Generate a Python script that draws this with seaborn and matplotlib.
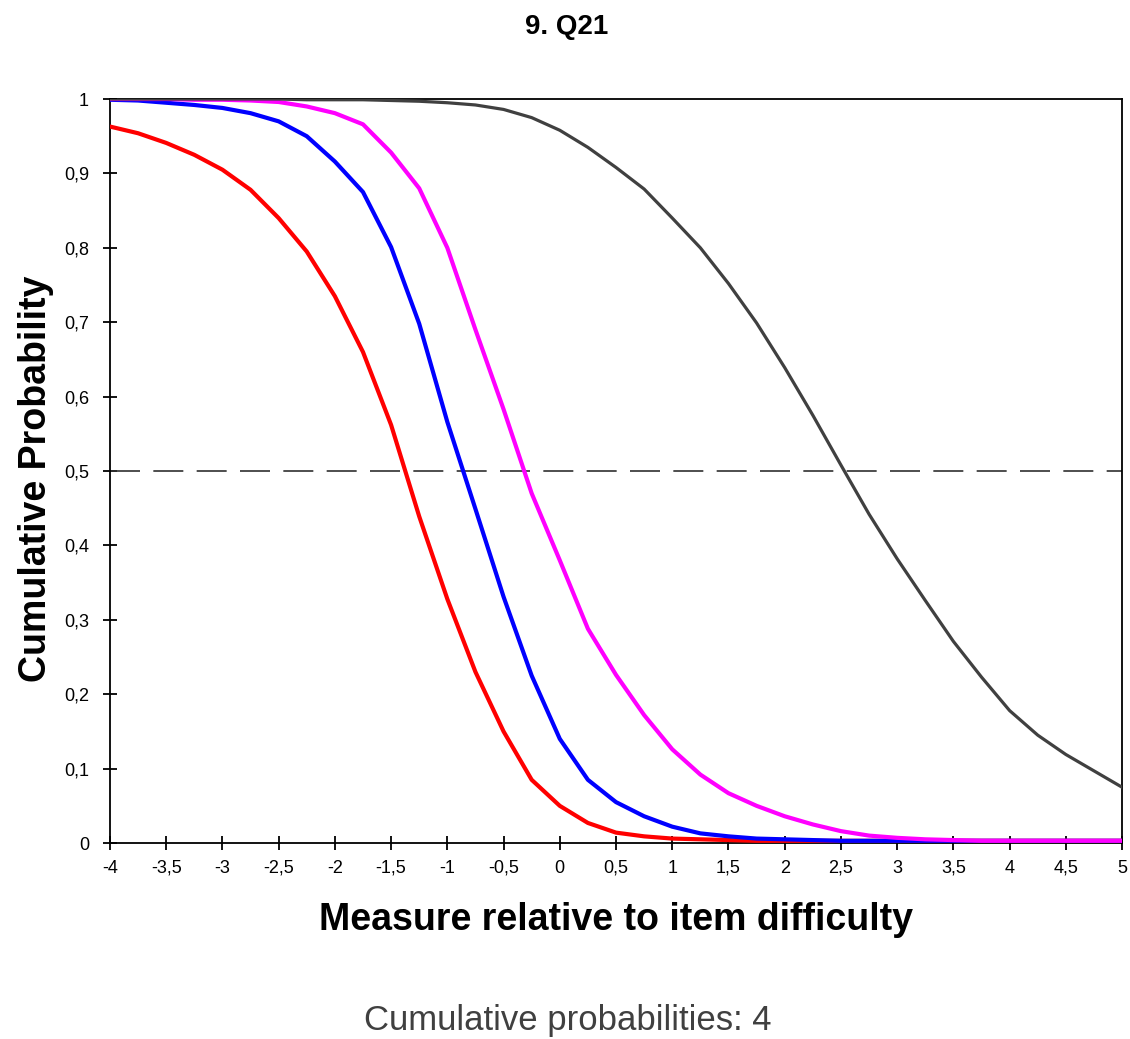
import seaborn as sns
import matplotlib.pyplot as plt
import matplotlib.ticker as mticker
import pandas as pd

# Measure values (relative to item difficulty)
measure = [-4, -3.75, -3.5, -3.25, -3, -2.75, -2.5, -2.25, -2, -1.75, -1.5, -1.25, -1, -0.75,
           -0.5, -0.25, 0, 0.25, 0.5, 0.75, 1, 1.25, 1.5, 1.75, 2, 2.25, 2.5, 2.75, 3, 3.25,
           3.5, 3.75, 4, 4.25, 4.5, 4.75, 5]

# Cumulative probability curves
cat_red = [0.963, 0.954, 0.941, 0.925, 0.905, 0.878, 0.840, 0.795, 0.735, 0.660, 0.562, 0.439,
           0.328, 0.230, 0.150, 0.085, 0.050, 0.027, 0.014, 0.009, 0.006, 0.005, 0.004, 0.003,
           0.003, 0.003, 0.003, 0.003, 0.003, 0.003, 0.003, 0.003, 0.003, 0.003, 0.003, 0.003,
           0.003]
cat_blue = [0.999, 0.998, 0.995, 0.992, 0.988, 0.981, 0.970, 0.950, 0.916, 0.875, 0.801, 0.698,
            0.566, 0.449, 0.331, 0.225, 0.140, 0.085, 0.055, 0.036, 0.022, 0.013, 0.009, 0.006,
            0.005, 0.004, 0.003, 0.003, 0.003, 0.003, 0.003, 0.003, 0.003, 0.003, 0.003, 0.003,
            0.003]
cat_magenta = [1.0, 1.0, 1.0, 0.999, 0.999, 0.998, 0.996, 0.990, 0.981, 0.966, 0.928, 0.880,
               0.800, 0.690, 0.583, 0.470, 0.380, 0.288, 0.226, 0.172, 0.126, 0.092, 0.067, 0.050,
               0.036, 0.025, 0.016, 0.010, 0.007, 0.005, 0.004, 0.003, 0.003, 0.003, 0.003, 0.003,
               0.003]
cat_gray = [1.0, 1.0, 1.0, 1.0, 1.0, 1.0, 1.0, 0.999, 0.999, 0.999, 0.998, 0.997, 0.995, 0.992,
            0.986, 0.975, 0.958, 0.935, 0.908, 0.879, 0.840, 0.800, 0.752, 0.699, 0.639, 0.575,
            0.508, 0.442, 0.382, 0.326, 0.271, 0.223, 0.178, 0.145, 0.119, 0.097, 0.075]

curve_names = ["1", "2", "3", "4"]
curve_colors = ["#ff0000", "#0000ff", "#ff00ff", "#404040"]
curve_widths = [3.0, 3.0, 3.0, 2.3]

frames = []
for name, vals in zip(curve_names, [cat_red, cat_blue, cat_magenta, cat_gray]):
    frames.append(pd.DataFrame({"Measure": measure, "Prob": vals, "Curve": name}))
df = pd.concat(frames, ignore_index=True)

sns.set_style("white")
plt.rcParams["font.family"] = ["Liberation Sans", "DejaVu Sans"]

fig = plt.figure(figsize=(11.3, 10.39), dpi=100)
ax = fig.add_axes([0.0973, 0.1886, 0.8957, 0.7161])

# dashed 0.5 reference line
ax.plot([measure[0], measure[-1]], [0.5, 0.5], color="#303030", linewidth=1.2, dashes=(18, 8), zorder=1)

for name, col, lw in zip(curve_names, curve_colors, curve_widths):
    sns.lineplot(data=df[df["Curve"] == name], x="Measure", y="Prob", color=col,
                 linewidth=lw, legend=False, ax=ax, zorder=3)

ax.set_xlim(-4, 5)
ax.set_ylim(0, 1)
ax.xaxis.set_major_locator(mticker.MultipleLocator(0.5))
ax.yaxis.set_major_locator(mticker.MultipleLocator(0.1))
comma = mticker.FuncFormatter(lambda v, p: ("%g" % round(v, 2)).replace(".", ","))
ax.xaxis.set_major_formatter(comma)
ax.yaxis.set_major_formatter(comma)
ax.tick_params(bottom=True, left=True, direction="inout", length=10, width=1.3,
               color="black", labelcolor="black", labelsize=13)
ax.tick_params(axis="x", pad=7)
ax.tick_params(axis="y", pad=10)

for s in ax.spines.values():
    s.set_visible(True)
    s.set_color("black")
    s.set_linewidth(1.3)

ax.set_xlabel("Measure relative to item difficulty", fontsize=27, fontweight="bold", color="black")
ax.set_ylabel("Cumulative Probability", fontsize=27, fontweight="bold", color="black")
ax.xaxis.set_label_coords(0.5, -0.079)
ax.yaxis.set_label_coords(-0.055, 0.49)

fig.text(0.501, 0.974, "9. Q21", ha="center", va="center", fontsize=20, fontweight="bold", color="black")
fig.text(0.502, 0.018, "Cumulative probabilities: 4", ha="center", va="center", fontsize=25, color="#404040")

fig.savefig("out.png", dpi=100)
